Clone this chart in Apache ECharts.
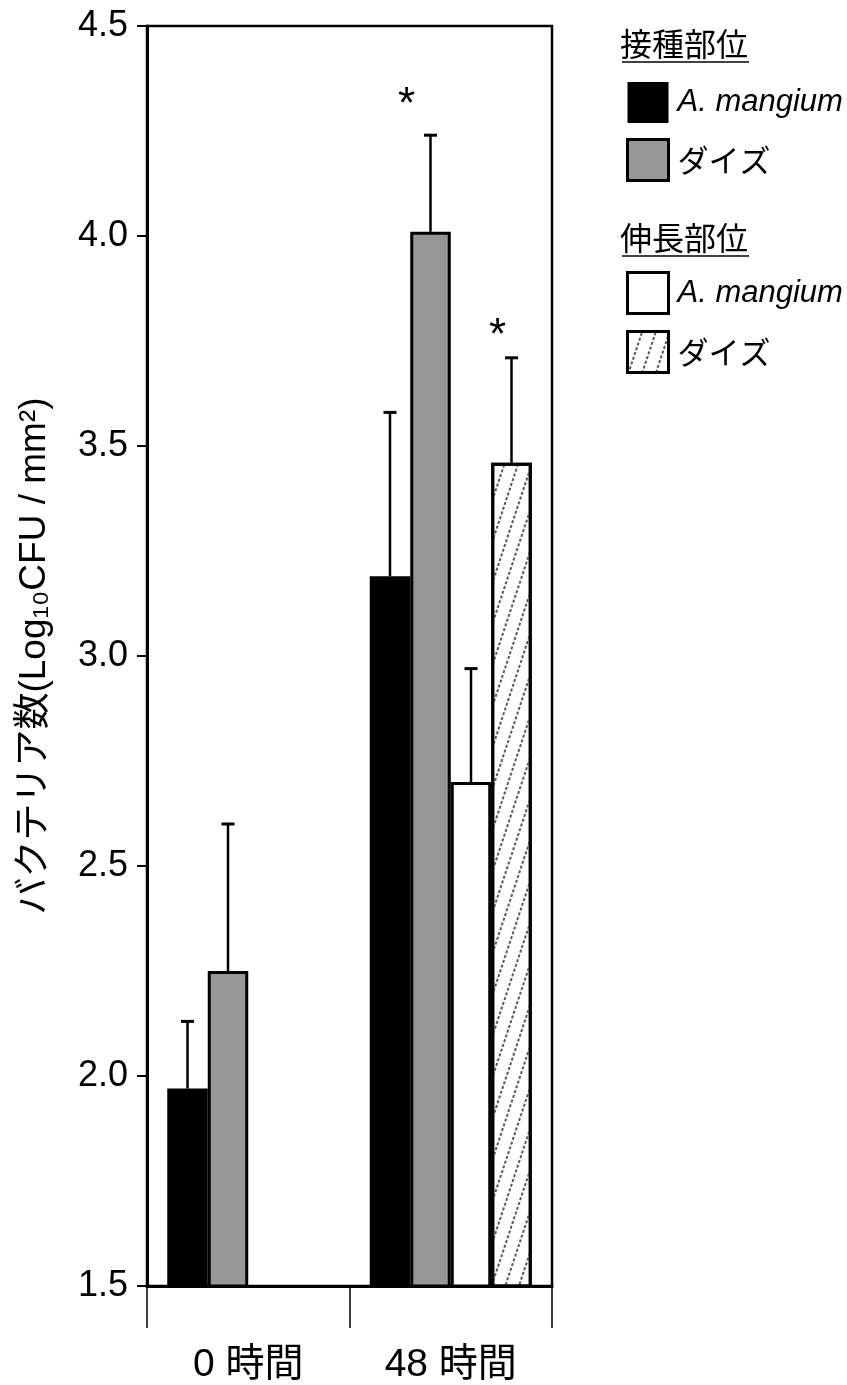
<!DOCTYPE html>
<html>
<head>
<meta charset="utf-8">
<script src="https://cdn.jsdelivr.net/npm/echarts@6/dist/echarts.min.js"></script>
<style>
html,body{margin:0;padding:0;background:#fff;}
#chart{width:847px;height:1385px;}
</style>
</head>
<body>
<div id="chart"></div>
<script>
// ---- data ----
const categories = ['0 時間', '48 時間'];
const seriesNames = ['接種部位 A. mangium', '接種部位 ダイズ', '伸長部位 A. mangium', '伸長部位 ダイズ'];
const inocMangium = [1.97, 3.19];
const inocSoy = [2.25, 4.01];
const elongMangium = [null, 2.70];
const elongSoy = [null, 3.46];
const inocMangiumUpper = [2.13, 3.58];
const inocSoyUpper = [2.60, 4.24];
const elongMangiumUpper = [null, 2.97];
const elongSoyUpper = [null, 3.71];
const starCategory = [1, 1];
const starSeries = [1, 3];
const starValue = [4.31, 3.76];
const yMin = 1.5, yMax = 4.5, yStep = 0.5;
const legendHeaders = ['接種部位', '伸長部位'];

// ---- build ----
const FONT = "'Liberation Sans', Arial, 'Noto Sans CJK JP', sans-serif";
const values = [inocMangium, inocSoy, elongMangium, elongSoy];
const uppers = [inocMangiumUpper, inocSoyUpper, elongMangiumUpper, elongSoyUpper];
const NS = values.length;
const errData = [];
values.forEach((arr, s) => arr.forEach((v, c) => {
  if (v != null && uppers[s][c] != null) errData.push([c, s, v, uppers[s][c]]);
}));
const starData = starCategory.map((c, i) => [c, starSeries[i], starValue[i]]);
const starDx = [-24, -14];

const hatch = { symbol: 'rect', symbolSize: 1, color: '#5a5a5a',
                dashArrayX: [[3, 2]], dashArrayY: [1.3, 11], rotation: -1.25 };
const styles = [
  { color: '#000000', borderColor: '#000', borderWidth: 0 },
  { color: '#969696', borderColor: '#000', borderWidth: 3 },
  { color: '#ffffff', borderColor: '#000', borderWidth: 3 },
  { color: '#ffffff', borderColor: '#000', borderWidth: 3, decal: hatch }
];

function slotX(api, c, s, v) {
  const p = api.coord([c, v]);
  const band = api.size([1, 0])[0];
  const bw = band * 0.8 / NS;
  return [p[0] - band * 0.4 + (s + 0.5) * bw, p[1]];
}

const barSeries = values.map((arr, s) => ({
  name: seriesNames[s],
  type: 'bar',
  data: arr.map(v => v == null ? '-' : v),
  barGap: '0%',
  barCategoryGap: '20%',
  itemStyle: styles[s],
  emphasis: { disabled: true },
  z: 2
}));

const legendFormatter = name => {
  const lbl = name.split(' ').slice(1).join(' ');
  return /mangium/.test(lbl) ? '{i|' + lbl + '}' : '{n|' + lbl + '}';
};
const legendText = {
  color: '#000', fontFamily: FONT, fontSize: 31, padding: [0, 0, 0, 4],
  rich: {
    i: { fontStyle: 'italic', fontSize: 31, fontFamily: FONT, color: '#000' },
    n: { fontSize: 31, fontFamily: "'Noto Sans CJK JP', sans-serif", color: '#000' }
  }
};
const legendData = idx => idx.map(s => ({
  name: seriesNames[s],
  itemStyle: Object.assign({}, styles[s], { borderWidth: s === 0 ? 0 : 3 })
}));

const option = {
  animation: false,
  backgroundColor: '#fff',
  textStyle: { fontFamily: FONT, color: '#000' },
  grid: { left: 147, right: 295, top: 26, bottom: 99, show: true, borderColor: '#000', borderWidth: 2.5 },
  legend: [
    { orient: 'vertical', left: 621, top: 77, itemWidth: 41, itemHeight: 41, itemGap: 15,
      icon: 'rect', selectedMode: false, data: legendData([0, 1]),
      formatter: legendFormatter, textStyle: legendText },
    { orient: 'vertical', left: 621, top: 266, itemWidth: 41, itemHeight: 41, itemGap: 15,
      icon: 'rect', selectedMode: false, data: legendData([2, 3]),
      formatter: legendFormatter, textStyle: legendText }
  ],
  graphic: [
    { type: 'text', left: 620, top: 28, style: { text: legendHeaders[0], fontSize: 32, fontFamily: "'Noto Sans CJK JP', sans-serif", fill: '#000' } },
    { type: 'line', shape: { x1: 622, y1: 62, x2: 749, y2: 62 }, style: { stroke: '#000', lineWidth: 1.5 } },
    { type: 'text', left: 620, top: 222, style: { text: legendHeaders[1], fontSize: 32, fontFamily: "'Noto Sans CJK JP', sans-serif", fill: '#000' } },
    { type: 'line', shape: { x1: 622, y1: 256, x2: 749, y2: 256 }, style: { stroke: '#000', lineWidth: 1.5 } }
  ],
  xAxis: {
    type: 'category',
    data: categories,
    boundaryGap: true,
    axisLine: { lineStyle: { color: '#000', width: 3 } },
    axisTick: { show: true, length: 42, interval: 0, lineStyle: { color: '#000', width: 1.5 } },
    axisLabel: { fontSize: 39, color: '#000', margin: 60, fontFamily: FONT },
    splitLine: { show: false }
  },
  yAxis: {
    type: 'value',
    min: yMin, max: yMax, interval: yStep,
    name: 'バクテリア数(Log₁₀CFU / mm²)',
    nameLocation: 'middle',
    nameGap: 94,
    nameTextStyle: { fontSize: 37, color: '#000', fontFamily: FONT },
    axisLine: { show: true, lineStyle: { color: '#000', width: 3 } },
    axisTick: { show: true, length: 10, lineStyle: { color: '#000', width: 2 } },
    axisLabel: { fontSize: 36, color: '#000', margin: 19, formatter: v => v.toFixed(1) },
    splitLine: { show: false }
  },
  series: barSeries.concat([
    {
      type: 'custom',
      name: 'err',
      data: errData,
      encode: { x: 0, y: 3 },
      z: 5,
      silent: true,
      renderItem: (params, api) => {
        const c = api.value(0), s = api.value(1), v = api.value(2), up = api.value(3);
        const b = slotX(api, c, s, v);
        const t = slotX(api, c, s, up);
        return {
          type: 'group',
          children: [
            { type: 'line', shape: { x1: b[0], y1: b[1], x2: t[0], y2: t[1] }, style: { stroke: '#000', lineWidth: 2.5 } },
            { type: 'line', shape: { x1: t[0] - 6.5, y1: t[1], x2: t[0] + 6.5, y2: t[1] }, style: { stroke: '#000', lineWidth: 3 } }
          ]
        };
      }
    },
    {
      type: 'custom',
      name: 'stars',
      data: starData,
      encode: { x: 0, y: 2 },
      z: 5,
      silent: true,
      renderItem: (params, api) => {
        const c = api.value(0), s = api.value(1), v = api.value(2);
        const p = slotX(api, c, s, v);
        return {
          type: 'text',
          x: p[0] + starDx[params.dataIndex],
          y: p[1],
          style: { text: '*', fontSize: 44, fontFamily: FONT, fill: '#000', align: 'center', verticalAlign: 'middle' }
        };
      }
    }
  ])
};

const chart = echarts.init(document.getElementById('chart'), null, { renderer: 'canvas' });
chart.setOption(option);
</script>
</body>
</html>
